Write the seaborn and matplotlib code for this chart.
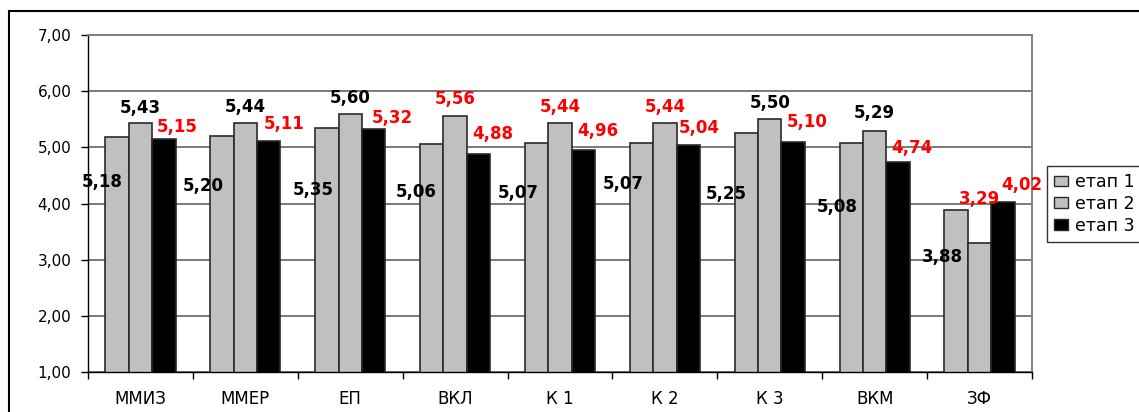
import matplotlib
matplotlib.use("Agg")
import matplotlib.pyplot as plt
from matplotlib.patches import Rectangle
import seaborn as sns
import pandas as pd

# Data
categories = ["ММИЗ", "ММЕР", "ЕП", "ВКЛ", "К 1", "К 2", "К 3", "ВКМ", "ЗФ"]
stages = ["етап 1", "етап 2", "етап 3"]
stage1 = [5.18, 5.20, 5.35, 5.06, 5.07, 5.07, 5.25, 5.08, 3.88]
stage2 = [5.43, 5.44, 5.60, 5.56, 5.44, 5.44, 5.50, 5.29, 3.29]
stage3 = [5.15, 5.11, 5.32, 4.88, 4.96, 5.04, 5.10, 4.74, 4.02]
y_tick_values = [1, 2, 3, 4, 5, 6, 7]
y_tick_labels = ["1,00", "2,00", "3,00", "4,00", "5,00", "6,00", "7,00"]

# Label colours for stage 2 values (red where highlighted)
stage2_label_colors = ["black", "black", "black", "red", "red", "red", "black", "black", "red"]

# Label placement (pixel offsets relative to bar top)
stage1_dx = [-15, -19, -14, -15, -18, -18, -20, -14, -14]
stage1_dy = [-45, -50, -62, -48, -50, -41, -61, -64, -47]
stage2_dy = [15, 16, 16, 17, 16, 16, 16, 18, 44]
stage3_dx = [13, 15, 19, 14, 14, 11, 14, 14, 19]
stage3_dy = [12, 17, 11, 20, 19, 17, 20, 14, 17]

df = pd.DataFrame({
    "category": categories * 3,
    "stage": [stages[0]] * 9 + [stages[1]] * 9 + [stages[2]] * 9,
    "value": stage1 + stage2 + stage3,
})

sns.set_style("white")
plt.rcParams["font.family"] = ["DejaVu Sans"]
plt.rcParams["text.color"] = "black"
plt.rcParams["xtick.color"] = "black"
plt.rcParams["ytick.color"] = "black"

fig = plt.figure(figsize=(11.39, 4.12), dpi=100)
ax = fig.add_axes([88 / 1139, 40 / 412, (1032 - 88) / 1139, (372 - 35) / 412])

palette = {stages[0]: "#c0c0c0", stages[1]: "#c0c0c0", stages[2]: "#000000"}
sns.barplot(data=df, x="category", y="value", hue="stage", order=categories,
            hue_order=stages, palette=palette, saturation=1, width=0.67,
            edgecolor="#2a2a2a", linewidth=1.2, errorbar=None, ax=ax)

ax.set_ylim(1, 7)
ax.set_xlim(-0.5, len(categories) - 0.5)
ax.set_yticks(y_tick_values)
ax.set_yticklabels(y_tick_labels, fontsize=11)
ax.set_xlabel("")
ax.set_ylabel("")
ax.tick_params(axis="y", length=5, width=1, colors="black", pad=7, left=True)
ax.tick_params(axis="x", which="major", length=0, pad=13, labelsize=12, labelcolor="black")
ax.set_xticks([i + 0.5 for i in range(-1, len(categories))], minor=True)
ax.tick_params(axis="x", which="minor", length=5, width=1, color="black", bottom=True)

ax.yaxis.grid(True, color="#646464", linewidth=1.2)
ax.set_axisbelow(True)
for side in ["left", "bottom"]:
    ax.spines[side].set_color("black")
    ax.spines[side].set_linewidth(1.0)
for side in ["top", "right"]:
    ax.spines[side].set_color("#808080")
    ax.spines[side].set_linewidth(1.4)

# Value labels
label_kw = dict(textcoords="offset pixels", ha="center", va="center",
                fontsize=12, fontweight="bold")
c1, c2, c3 = ax.containers[:3]
for i, bar in enumerate(c1):
    x = bar.get_x() + bar.get_width() / 2
    v = bar.get_height()
    ax.annotate(f"{v:.2f}".replace(".", ","), (x, v),
                xytext=(stage1_dx[i], stage1_dy[i]), color="black", **label_kw)
for i, bar in enumerate(c2):
    x = bar.get_x() + bar.get_width() / 2
    v = bar.get_height()
    ax.annotate(f"{v:.2f}".replace(".", ","), (x, v),
                xytext=(0, stage2_dy[i]), color=stage2_label_colors[i], **label_kw)
for i, bar in enumerate(c3):
    x = bar.get_x() + bar.get_width() / 2
    v = bar.get_height()
    ax.annotate(f"{v:.2f}".replace(".", ","), (x, v),
                xytext=(stage3_dx[i], stage3_dy[i]), color="red",
                annotation_clip=False, **label_kw)

# Legend
leg = ax.legend(loc="upper left", bbox_to_anchor=(1047 / 1139, 1 - 166 / 412),
                bbox_transform=fig.transFigure, fontsize=12.5, frameon=True,
                fancybox=False, borderaxespad=0, borderpad=0.4,
                labelspacing=0.22, handlelength=0.8, handleheight=0.55,
                handletextpad=0.4)
leg.get_frame().set_edgecolor("black")
leg.get_frame().set_linewidth(1.0)
for h in leg.legend_handles:
    h.set_edgecolor("#2a2a2a")
    h.set_linewidth(1.0)

# Outer chart frame
fig.patches.append(Rectangle((9 / 1139, -0.2), 1.2, 0.2 + (1 - 11 / 412),
                             transform=fig.transFigure, fill=False,
                             edgecolor="black", linewidth=1.5))

fig.savefig("out.png", dpi=100)
